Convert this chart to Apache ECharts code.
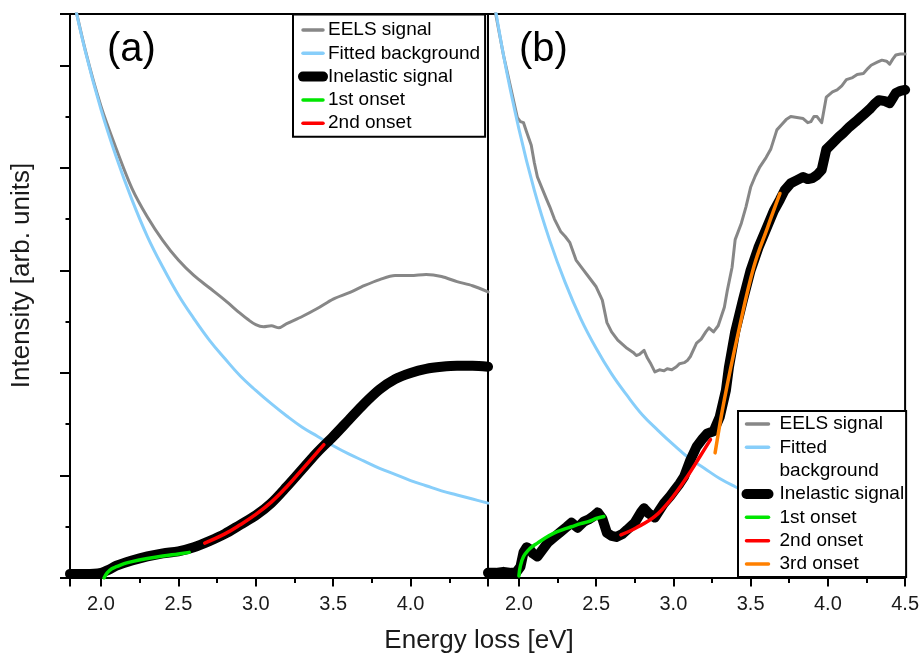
<!DOCTYPE html>
<html>
<head>
<meta charset="utf-8">
<script src="https://cdn.jsdelivr.net/npm/echarts@6/dist/echarts.min.js"></script>
<style>
html,body{margin:0;padding:0;background:#fff;}
#chart{width:922px;height:656px;}
</style>
</head>
<body>
<div id="chart"></div>
<script>
// ---------- Panel (a) ----------
const bgA = [[1.8,5.80],[1.9,5.13],[2.0,4.57],[2.1,4.10],[2.2,3.69],[2.3,3.33],[2.4,3.03],[2.5,2.76],[2.6,2.53],[2.7,2.32],[2.8,2.14],[2.9,1.97],[3.0,1.83],[3.1,1.70],[3.2,1.58],[3.3,1.47],[3.4,1.38],[3.5,1.29],[3.6,1.21],[3.7,1.14],[3.8,1.07],[3.9,1.01],[4.0,0.95],[4.1,0.90],[4.2,0.85],[4.3,0.81],[4.4,0.77],[4.5,0.73]];
const eelsA = [[1.8,5.80],[1.9,5.14],[2.0,4.60],[2.1,4.18],[2.2,3.80],[2.3,3.52],[2.4,3.29],[2.5,3.10],[2.6,2.95],[2.7,2.83],[2.8,2.71],[2.9,2.58],[2.95,2.52],[3.0,2.47],[3.05,2.45],[3.1,2.46],[3.15,2.44],[3.2,2.48],[3.3,2.55],[3.4,2.63],[3.5,2.72],[3.6,2.78],[3.7,2.85],[3.8,2.91],[3.9,2.95],[4.0,2.95],[4.1,2.96],[4.2,2.94],[4.3,2.89],[4.4,2.85],[4.5,2.79]];
const inelA = [[1.8,0.04],[1.9,0.04],[2.0,0.05],[2.05,0.08],[2.1,0.12],[2.2,0.17],[2.3,0.21],[2.4,0.24],[2.5,0.26],[2.6,0.30],[2.7,0.36],[2.8,0.43],[2.9,0.52],[3.0,0.61],[3.1,0.73],[3.2,0.89],[3.3,1.06],[3.4,1.23],[3.5,1.38],[3.6,1.54],[3.7,1.70],[3.8,1.84],[3.9,1.94],[4.0,2.00],[4.1,2.04],[4.2,2.06],[4.3,2.07],[4.4,2.07],[4.5,2.06]];
const onset1A = [[2.02,0.0],[2.04,0.05],[2.07,0.09],[2.1,0.11],[2.15,0.14],[2.2,0.16],[2.3,0.19],[2.4,0.215],[2.5,0.235],[2.57,0.25]];
const onset2A = [[2.67,0.34],[2.8,0.43],[2.9,0.52],[3.0,0.62],[3.1,0.74],[3.2,0.89],[3.3,1.06],[3.44,1.30]];

// ---------- Panel (b) ----------
const bgB = [[1.8,6.00],[1.9,5.10],[2.0,4.38],[2.1,3.78],[2.2,3.29],[2.3,2.88],[2.4,2.53],[2.5,2.24],[2.6,1.99],[2.7,1.78],[2.8,1.59],[2.9,1.44],[3.0,1.30],[3.1,1.17],[3.2,1.07],[3.3,0.97],[3.4,0.89],[3.5,0.82],[3.6,0.75],[3.7,0.69],[3.8,0.64],[3.9,0.59],[4.0,0.55],[4.1,0.51],[4.2,0.47],[4.3,0.44],[4.4,0.41],[4.5,0.38]];
const eelsB = [[1.8,6.0],[1.85,5.5],[1.9,5.1],[1.95,4.76],[1.99,4.49],[2.01,4.45],[2.03,4.44],[2.05,4.35],[2.08,4.22],[2.10,4.05],[2.12,3.91],[2.15,3.80],[2.18,3.69],[2.20,3.62],[2.23,3.50],[2.27,3.38],[2.30,3.33],[2.33,3.27],[2.37,3.10],[2.41,3.02],[2.45,2.94],[2.50,2.84],[2.54,2.71],[2.57,2.49],[2.60,2.40],[2.64,2.32],[2.70,2.24],[2.74,2.20],[2.76,2.17],[2.78,2.18],[2.81,2.22],[2.83,2.15],[2.85,2.10],[2.88,2.01],[2.91,2.03],[2.94,2.02],[2.96,2.04],[2.99,2.03],[3.02,2.06],[3.04,2.09],[3.07,2.10],[3.09,2.12],[3.11,2.16],[3.15,2.29],[3.18,2.33],[3.21,2.40],[3.23,2.44],[3.26,2.40],[3.29,2.46],[3.31,2.55],[3.33,2.64],[3.35,2.81],[3.38,3.03],[3.40,3.30],[3.44,3.46],[3.47,3.62],[3.50,3.81],[3.53,3.92],[3.56,4.01],[3.60,4.10],[3.63,4.18],[3.67,4.37],[3.70,4.42],[3.73,4.47],[3.76,4.50],[3.80,4.49],[3.84,4.48],[3.87,4.44],[3.89,4.45],[3.91,4.50],[3.93,4.50],[3.96,4.44],[3.99,4.69],[4.03,4.74],[4.06,4.76],[4.09,4.80],[4.12,4.86],[4.16,4.88],[4.19,4.91],[4.23,4.92],[4.26,4.97],[4.28,5.00],[4.32,5.03],[4.35,5.05],[4.38,5.04],[4.40,5.01],[4.42,5.06],[4.44,5.10],[4.47,5.11],[4.50,5.11]];
const inelB = [[1.8,0.05],[1.85,0.05],[1.9,0.06],[1.95,0.05],[1.98,0.05],[2.01,0.11],[2.03,0.25],[2.05,0.30],[2.07,0.28],[2.09,0.24],[2.12,0.21],[2.15,0.27],[2.19,0.35],[2.23,0.40],[2.27,0.45],[2.31,0.50],[2.34,0.54],[2.38,0.49],[2.42,0.55],[2.45,0.57],[2.48,0.60],[2.51,0.64],[2.54,0.58],[2.57,0.44],[2.60,0.41],[2.63,0.40],[2.67,0.43],[2.70,0.47],[2.75,0.54],[2.79,0.64],[2.81,0.68],[2.84,0.63],[2.88,0.59],[2.91,0.66],[2.94,0.73],[2.98,0.80],[3.01,0.86],[3.04,0.92],[3.07,0.99],[3.11,1.15],[3.15,1.28],[3.19,1.36],[3.22,1.41],[3.26,1.43],[3.30,1.57],[3.34,1.83],[3.36,2.06],[3.40,2.40],[3.45,2.71],[3.50,3.00],[3.55,3.22],[3.60,3.40],[3.65,3.58],[3.69,3.69],[3.72,3.78],[3.76,3.85],[3.80,3.88],[3.84,3.91],[3.87,3.89],[3.90,3.90],[3.93,3.93],[3.96,3.98],[3.99,4.18],[4.03,4.24],[4.07,4.30],[4.10,4.34],[4.14,4.40],[4.18,4.45],[4.21,4.49],[4.24,4.53],[4.27,4.57],[4.30,4.62],[4.33,4.66],[4.37,4.65],[4.40,4.63],[4.42,4.68],[4.44,4.73],[4.47,4.75],[4.50,4.76]];
const onset1B = [[2.0,0.02],[2.01,0.12],[2.03,0.21],[2.06,0.27],[2.09,0.31],[2.12,0.34],[2.17,0.39],[2.23,0.44],[2.28,0.47],[2.34,0.50],[2.40,0.53],[2.45,0.55],[2.50,0.58],[2.55,0.60]];
const onset2B = [[2.66,0.42],[2.76,0.49],[2.88,0.60],[2.98,0.76],[3.09,0.99],[3.17,1.18],[3.24,1.35]];
const onset3B = [[3.27,1.22],[3.33,1.74],[3.42,2.39],[3.52,3.03],[3.61,3.42],[3.69,3.75]];

const legendA = ['EELS signal','Fitted background','Inelastic signal','1st onset','2nd onset'];
const legendB = ['EELS signal','Fitted background','background','Inelastic signal','1st onset','2nd onset','3rd onset'];

const FONT = 'Liberation Sans, Arial, sans-serif';
const C = {eels:'#878787', bg:'#87CEFA', inel:'#000000', o1:'#00E600', o2:'#FF0000', o3:'#FF8000'};
const W = {eels:3, bg:3, inel:10, o:3.5};

function ln(name, data, gi, color, width, smooth) {
  return {
    name, type:'line', data, xAxisIndex:gi, yAxisIndex:gi,
    symbol:'none', showSymbol:false, smooth: smooth, animation:false,
    lineStyle:{color, width, cap:'round', join:'round'}, itemStyle:{color}
  };
}
function legendItem(n) {
  if (n === 'background') return {name:n, icon:'none'};
  const w = n === 'Inelastic signal' ? W.inel : 3.5;
  return {name:n, lineStyle:{width:w, cap:'round'}, itemStyle:{opacity:0}};
}

const xBase = {
  type:'value', min:1.8, max:4.5,
  axisLine:{show:true, lineStyle:{color:'#000', width:2}},
  axisTick:{show:true, inside:false, length:8.5, lineStyle:{color:'#000', width:2}},
  minorTick:{show:true, splitNumber:2, length:5, lineStyle:{color:'#000', width:2}},
  splitLine:{show:false}, minorSplitLine:{show:false}
};
const yBase = {
  type:'value', min:0, max:5.5, interval:1,
  axisLabel:{show:false}, splitLine:{show:false},
  axisLine:{show:true, lineStyle:{color:'#000', width:2}}
};

const chart = echarts.init(document.getElementById('chart'), null, {renderer:'canvas'});
chart.setOption({
  backgroundColor:'#fff',
  animation:false,
  grid:[
    {left:70, top:14, width:418, height:564, show:true, borderColor:'#000', borderWidth:2, backgroundColor:'transparent'},
    {left:488, top:14, width:418, height:564, show:true, borderColor:'#000', borderWidth:2, backgroundColor:'transparent'}
  ],
  xAxis:[
    Object.assign({}, xBase, {gridIndex:0,
      axisLabel:{showMinLabel:false, showMaxLabel:false, fontSize:20, color:'#1a1a1a', margin:16, fontFamily:FONT,
        formatter: v => v.toFixed(1)}}),
    Object.assign({}, xBase, {gridIndex:1,
      axisLabel:{showMinLabel:false, showMaxLabel:true, fontSize:20, color:'#1a1a1a', margin:16, fontFamily:FONT,
        formatter: v => v.toFixed(1)}})
  ],
  yAxis:[
    Object.assign({}, yBase, {gridIndex:0,
      axisTick:{show:true, inside:false, length:10, lineStyle:{color:'#000', width:2}},
      minorTick:{show:true, splitNumber:2, length:4.5, lineStyle:{color:'#000', width:2}}}),
    Object.assign({}, yBase, {gridIndex:1, axisTick:{show:false}, minorTick:{show:false}})
  ],
  legend:[
    {
      data: legendA.map(legendItem), orient:'vertical', left:293, top:14.5, padding:[6,5,4,5],
      itemWidth:20, itemHeight:14, itemGap:4.3, selectedMode:false,
      backgroundColor:'#fff', borderColor:'#000', borderWidth:2, borderRadius:0,
      itemStyle:{opacity:0},
      textStyle:{fontSize:19, lineHeight:19, color:'#000', fontFamily:FONT}
    },
    {
      data: legendB.map(legendItem),
      orient:'vertical', left:738, top:411, padding:[3.5,2,3.5,3.5],
      itemWidth:22, itemHeight:14, itemGap:4.33, selectedMode:false,
      backgroundColor:'#fff', borderColor:'#000', borderWidth:2, borderRadius:0,
      itemStyle:{opacity:0},
      formatter: n => n === 'Fitted background' ? 'Fitted' : n,
      textStyle:{fontSize:19, lineHeight:19, color:'#000', fontFamily:FONT, padding:[0,0,0,6]}
    }
  ],
  graphic:[
    {type:'text', left:107, top:30, style:{text:'(a)', fill:'#000', font:'40px '+FONT}},
    {type:'text', left:519, top:30, style:{text:'(b)', fill:'#000', font:'40px '+FONT}},
    {type:'text', x:479, y:641, style:{text:'Energy loss [eV]', font:'26px '+FONT, fill:'#1a1a1a', align:'center', verticalAlign:'middle'}},
    {type:'text', x:22, y:275.5, rotation:Math.PI/2, style:{text:'Intensity [arb. units]', font:'26px '+FONT, fill:'#1a1a1a', align:'center', verticalAlign:'middle'}}
  ],
  series:[
    ln('EELS signal', eelsA, 0, C.eels, W.eels, 0.3),
    ln('Fitted background', bgA, 0, C.bg, W.bg, 0.4),
    ln('Inelastic signal', inelA, 0, C.inel, W.inel, 0.3),
    ln('1st onset', onset1A, 0, C.o1, W.o, 0.4),
    ln('2nd onset', onset2A, 0, C.o2, W.o, 0.4),
    ln('EELS signal', eelsB, 1, C.eels, W.eels, false),
    ln('Fitted background', bgB, 1, C.bg, W.bg, 0.4),
    ln('Inelastic signal', inelB, 1, C.inel, W.inel, false),
    ln('1st onset', onset1B, 1, C.o1, W.o, 0.4),
    ln('2nd onset', onset2B, 1, C.o2, W.o, 0.4),
    ln('3rd onset', onset3B, 1, C.o3, W.o, 0.4),
    ln('background', [], 1, 'rgba(0,0,0,0)', 0, false)
  ]
});
</script>
</body>
</html>
